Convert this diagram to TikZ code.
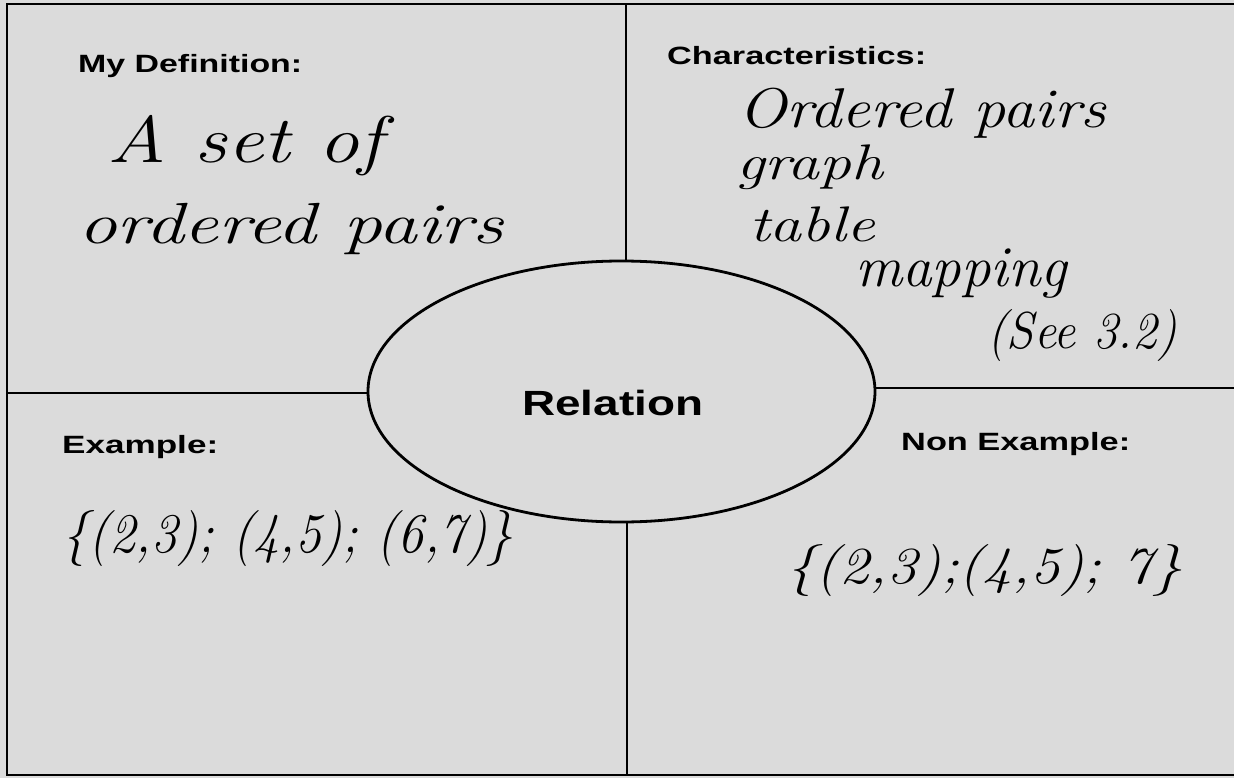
\documentclass[tikz,border=0pt]{standalone}
\usepackage{fontspec}
\usepackage{graphicx}
\usetikzlibrary{shapes.geometric}
\newfontfamily\hdrfont{Liberation Sans}
\newcommand\hdtext[3]{{\hdrfont\bfseries\fontsize{#1}{#1}\selectfont\resizebox{#2}{\height}{#3}}}
\newcommand\hwtext[3]{{\fontsize{#1}{#1}\selectfont\itshape\resizebox{#2}{\height}{#3}}}
\begin{document}
\begin{tikzpicture}[x=1pt,y=-1pt,
  frame/.style={line width=2.6pt, black},
  lbl/.style={anchor=base west, inner sep=0pt, text=black}]
\useasboundingbox (0,0) rectangle (1234,778);
\fill[black!14] (0,0) rectangle (1234,778);
% central ellipse
\node[ellipse, draw, line width=2.8pt, minimum width=507pt, minimum height=261pt, inner sep=0pt] (rel) at (621.5,391.5) {};
% frame
\coordinate (TL) at (7,4);
\coordinate (TR) at (1234,4);
\coordinate (BL) at (7,775);
\coordinate (BR) at (1234,775);
\draw[frame] (TR) -- (TL) -- (BL) -- (BR);
% dividers
\coordinate (ml) at (7,393);
\coordinate (mr) at (1234,388);
\coordinate (mt) at (626,4);
\coordinate (mb) at (627,775);
\draw[frame] (ml) -- (rel.west |- ml);
\draw[frame] (rel.east |- mr) -- (mr);
\draw[frame] (mt) -- (mt |- rel.north);
\draw[frame] (mb |- rel.south) -- (mb);
% headings
\node[lbl] (hdef) at (78,73) {\hdtext{25}{224pt}{My Definition:}};
\node[lbl] (hchar) at (667,65) {\hdtext{25}{259pt}{Characteristics:}};
\node[lbl] (hex) at (62,453) {\hdtext{25}{156pt}{Example:}};
\node[lbl] (hnon) at (901,450) {\hdtext{25}{229pt}{Non Example:}};
\node[lbl] (reltxt) at (522,415) {\hdtext{35}{181pt}{Relation}};
% handwriting
\node[lbl] (d1) at (107,163) {\hwtext{66}{276pt}{A set of}};
\node[lbl] (d2) at (78,243) {\hwtext{58}{425pt}{ordered pairs}};
\node[lbl] (c1) at (738,128) {\hwtext{56}{368pt}{Ordered pairs}};
\node[lbl] (c2) at (736,180) {\hwtext{50}{147pt}{graph}};
\node[lbl] (c3) at (749,242) {\hwtext{50}{126pt}{table}};
\node[lbl] (c4) at (855,287) {\hwtext{58}{212pt}{mapping}};
\node[lbl] (c5) at (987,348) {\hwtext{52}{190pt}{(See 3.2)}};
\node[lbl] (e1) at (62,552) {\hwtext{56}{451pt}{\{(2,3); (4,5); (6,7)\}}};
\node[lbl] (n1) at (786,583) {\hwtext{52}{396pt}{\{(2,3);(4,5); 7\}}};
\end{tikzpicture}
\end{document}
